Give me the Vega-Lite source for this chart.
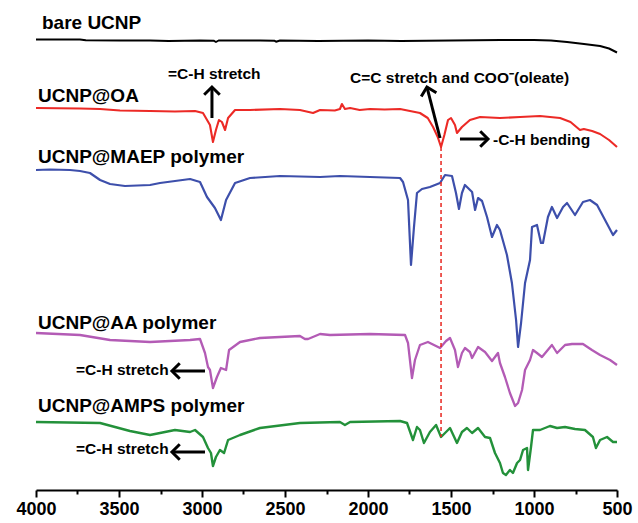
{
  "$schema": "https://vega.github.io/schema/vega-lite/v6.json",
  "width": 581,
  "height": 490,
  "autosize": {"type": "none"},
  "padding": {"left": 36, "top": 0, "right": 21, "bottom": 33},
  "config": {"view": {"stroke": null}, "font": "Liberation Sans"},
  "datasets": {
    "spectra": [
      {"series": "bare UCNP", "wavenumber": 4000, "transmittance": 450.5},
      {"series": "bare UCNP", "wavenumber": 3735, "transmittance": 450.5},
      {"series": "bare UCNP", "wavenumber": 3700, "transmittance": 449.7},
      {"series": "bare UCNP", "wavenumber": 3494, "transmittance": 449.5},
      {"series": "bare UCNP", "wavenumber": 3313, "transmittance": 449.5},
      {"series": "bare UCNP", "wavenumber": 3200, "transmittance": 449},
      {"series": "bare UCNP", "wavenumber": 3012, "transmittance": 449.5},
      {"series": "bare UCNP", "wavenumber": 2930, "transmittance": 449.3},
      {"series": "bare UCNP", "wavenumber": 2916, "transmittance": 448},
      {"series": "bare UCNP", "wavenumber": 2900, "transmittance": 449.5},
      {"series": "bare UCNP", "wavenumber": 2650, "transmittance": 449.5},
      {"series": "bare UCNP", "wavenumber": 2565, "transmittance": 449.3},
      {"series": "bare UCNP", "wavenumber": 2554, "transmittance": 448.3},
      {"series": "bare UCNP", "wavenumber": 2530, "transmittance": 449.5},
      {"series": "bare UCNP", "wavenumber": 2300, "transmittance": 449},
      {"series": "bare UCNP", "wavenumber": 2000, "transmittance": 449.5},
      {"series": "bare UCNP", "wavenumber": 1800, "transmittance": 449},
      {"series": "bare UCNP", "wavenumber": 1500, "transmittance": 449.5},
      {"series": "bare UCNP", "wavenumber": 1200, "transmittance": 450},
      {"series": "bare UCNP", "wavenumber": 1000, "transmittance": 450},
      {"series": "bare UCNP", "wavenumber": 898, "transmittance": 449.5},
      {"series": "bare UCNP", "wavenumber": 801, "transmittance": 448},
      {"series": "bare UCNP", "wavenumber": 699, "transmittance": 446},
      {"series": "bare UCNP", "wavenumber": 602, "transmittance": 444},
      {"series": "bare UCNP", "wavenumber": 548, "transmittance": 441.5},
      {"series": "bare UCNP", "wavenumber": 500, "transmittance": 437.5},

      {"series": "UCNP@OA", "wavenumber": 4000, "transmittance": 382},
      {"series": "UCNP@OA", "wavenumber": 3735, "transmittance": 381.5},
      {"series": "UCNP@OA", "wavenumber": 3614, "transmittance": 381},
      {"series": "UCNP@OA", "wavenumber": 3494, "transmittance": 379.5},
      {"series": "UCNP@OA", "wavenumber": 3313, "transmittance": 379},
      {"series": "UCNP@OA", "wavenumber": 3163, "transmittance": 378.5},
      {"series": "UCNP@OA", "wavenumber": 3042, "transmittance": 379},
      {"series": "UCNP@OA", "wavenumber": 2994, "transmittance": 377},
      {"series": "UCNP@OA", "wavenumber": 2952, "transmittance": 365},
      {"series": "UCNP@OA", "wavenumber": 2934, "transmittance": 348},
      {"series": "UCNP@OA", "wavenumber": 2916, "transmittance": 360},
      {"series": "UCNP@OA", "wavenumber": 2898, "transmittance": 370},
      {"series": "UCNP@OA", "wavenumber": 2880, "transmittance": 368},
      {"series": "UCNP@OA", "wavenumber": 2861, "transmittance": 360},
      {"series": "UCNP@OA", "wavenumber": 2843, "transmittance": 372},
      {"series": "UCNP@OA", "wavenumber": 2801, "transmittance": 380},
      {"series": "UCNP@OA", "wavenumber": 2711, "transmittance": 380},
      {"series": "UCNP@OA", "wavenumber": 2530, "transmittance": 381},
      {"series": "UCNP@OA", "wavenumber": 2410, "transmittance": 380},
      {"series": "UCNP@OA", "wavenumber": 2331, "transmittance": 377},
      {"series": "UCNP@OA", "wavenumber": 2289, "transmittance": 380},
      {"series": "UCNP@OA", "wavenumber": 2200, "transmittance": 379.5},
      {"series": "UCNP@OA", "wavenumber": 2169, "transmittance": 381},
      {"series": "UCNP@OA", "wavenumber": 2157, "transmittance": 386},
      {"series": "UCNP@OA", "wavenumber": 2139, "transmittance": 381},
      {"series": "UCNP@OA", "wavenumber": 2108, "transmittance": 382},
      {"series": "UCNP@OA", "wavenumber": 2050, "transmittance": 380},
      {"series": "UCNP@OA", "wavenumber": 1988, "transmittance": 381},
      {"series": "UCNP@OA", "wavenumber": 1900, "transmittance": 380.5},
      {"series": "UCNP@OA", "wavenumber": 1807, "transmittance": 381},
      {"series": "UCNP@OA", "wavenumber": 1687, "transmittance": 377},
      {"series": "UCNP@OA", "wavenumber": 1640, "transmittance": 372},
      {"series": "UCNP@OA", "wavenumber": 1608, "transmittance": 363},
      {"series": "UCNP@OA", "wavenumber": 1580, "transmittance": 353},
      {"series": "UCNP@OA", "wavenumber": 1560, "transmittance": 343},
      {"series": "UCNP@OA", "wavenumber": 1540, "transmittance": 355},
      {"series": "UCNP@OA", "wavenumber": 1518, "transmittance": 370},
      {"series": "UCNP@OA", "wavenumber": 1500, "transmittance": 372},
      {"series": "UCNP@OA", "wavenumber": 1476, "transmittance": 365},
      {"series": "UCNP@OA", "wavenumber": 1464, "transmittance": 357},
      {"series": "UCNP@OA", "wavenumber": 1434, "transmittance": 363},
      {"series": "UCNP@OA", "wavenumber": 1386, "transmittance": 370},
      {"series": "UCNP@OA", "wavenumber": 1325, "transmittance": 373},
      {"series": "UCNP@OA", "wavenumber": 1205, "transmittance": 372},
      {"series": "UCNP@OA", "wavenumber": 1084, "transmittance": 373},
      {"series": "UCNP@OA", "wavenumber": 964, "transmittance": 374},
      {"series": "UCNP@OA", "wavenumber": 843, "transmittance": 372},
      {"series": "UCNP@OA", "wavenumber": 780, "transmittance": 368},
      {"series": "UCNP@OA", "wavenumber": 723, "transmittance": 360},
      {"series": "UCNP@OA", "wavenumber": 700, "transmittance": 361},
      {"series": "UCNP@OA", "wavenumber": 650, "transmittance": 359},
      {"series": "UCNP@OA", "wavenumber": 602, "transmittance": 356},
      {"series": "UCNP@OA", "wavenumber": 548, "transmittance": 350},
      {"series": "UCNP@OA", "wavenumber": 500, "transmittance": 343},

      {"series": "UCNP@MAEP polymer", "wavenumber": 4000, "transmittance": 320},
      {"series": "UCNP@MAEP polymer", "wavenumber": 3916, "transmittance": 320.5},
      {"series": "UCNP@MAEP polymer", "wavenumber": 3795, "transmittance": 320},
      {"series": "UCNP@MAEP polymer", "wavenumber": 3735, "transmittance": 319},
      {"series": "UCNP@MAEP polymer", "wavenumber": 3675, "transmittance": 317},
      {"series": "UCNP@MAEP polymer", "wavenumber": 3614, "transmittance": 310},
      {"series": "UCNP@MAEP polymer", "wavenumber": 3554, "transmittance": 306},
      {"series": "UCNP@MAEP polymer", "wavenumber": 3464, "transmittance": 304},
      {"series": "UCNP@MAEP polymer", "wavenumber": 3313, "transmittance": 305},
      {"series": "UCNP@MAEP polymer", "wavenumber": 3253, "transmittance": 307},
      {"series": "UCNP@MAEP polymer", "wavenumber": 3072, "transmittance": 311},
      {"series": "UCNP@MAEP polymer", "wavenumber": 3012, "transmittance": 308},
      {"series": "UCNP@MAEP polymer", "wavenumber": 2970, "transmittance": 293},
      {"series": "UCNP@MAEP polymer", "wavenumber": 2922, "transmittance": 282},
      {"series": "UCNP@MAEP polymer", "wavenumber": 2886, "transmittance": 270},
      {"series": "UCNP@MAEP polymer", "wavenumber": 2855, "transmittance": 290},
      {"series": "UCNP@MAEP polymer", "wavenumber": 2801, "transmittance": 307},
      {"series": "UCNP@MAEP polymer", "wavenumber": 2711, "transmittance": 312},
      {"series": "UCNP@MAEP polymer", "wavenumber": 2530, "transmittance": 314},
      {"series": "UCNP@MAEP polymer", "wavenumber": 2289, "transmittance": 313},
      {"series": "UCNP@MAEP polymer", "wavenumber": 2169, "transmittance": 314},
      {"series": "UCNP@MAEP polymer", "wavenumber": 1988, "transmittance": 313},
      {"series": "UCNP@MAEP polymer", "wavenumber": 1807, "transmittance": 312},
      {"series": "UCNP@MAEP polymer", "wavenumber": 1789, "transmittance": 308},
      {"series": "UCNP@MAEP polymer", "wavenumber": 1759, "transmittance": 290},
      {"series": "UCNP@MAEP polymer", "wavenumber": 1741, "transmittance": 225},
      {"series": "UCNP@MAEP polymer", "wavenumber": 1723, "transmittance": 263},
      {"series": "UCNP@MAEP polymer", "wavenumber": 1705, "transmittance": 297},
      {"series": "UCNP@MAEP polymer", "wavenumber": 1675, "transmittance": 301},
      {"series": "UCNP@MAEP polymer", "wavenumber": 1627, "transmittance": 303},
      {"series": "UCNP@MAEP polymer", "wavenumber": 1566, "transmittance": 307},
      {"series": "UCNP@MAEP polymer", "wavenumber": 1536, "transmittance": 315},
      {"series": "UCNP@MAEP polymer", "wavenumber": 1494, "transmittance": 314},
      {"series": "UCNP@MAEP polymer", "wavenumber": 1470, "transmittance": 297},
      {"series": "UCNP@MAEP polymer", "wavenumber": 1452, "transmittance": 281},
      {"series": "UCNP@MAEP polymer", "wavenumber": 1434, "transmittance": 297},
      {"series": "UCNP@MAEP polymer", "wavenumber": 1416, "transmittance": 305},
      {"series": "UCNP@MAEP polymer", "wavenumber": 1373, "transmittance": 298},
      {"series": "UCNP@MAEP polymer", "wavenumber": 1355, "transmittance": 280},
      {"series": "UCNP@MAEP polymer", "wavenumber": 1337, "transmittance": 292},
      {"series": "UCNP@MAEP polymer", "wavenumber": 1313, "transmittance": 289},
      {"series": "UCNP@MAEP polymer", "wavenumber": 1283, "transmittance": 273},
      {"series": "UCNP@MAEP polymer", "wavenumber": 1253, "transmittance": 253},
      {"series": "UCNP@MAEP polymer", "wavenumber": 1223, "transmittance": 265},
      {"series": "UCNP@MAEP polymer", "wavenumber": 1205, "transmittance": 260},
      {"series": "UCNP@MAEP polymer", "wavenumber": 1163, "transmittance": 235},
      {"series": "UCNP@MAEP polymer", "wavenumber": 1133, "transmittance": 207},
      {"series": "UCNP@MAEP polymer", "wavenumber": 1108, "transmittance": 170},
      {"series": "UCNP@MAEP polymer", "wavenumber": 1096, "transmittance": 143},
      {"series": "UCNP@MAEP polymer", "wavenumber": 1078, "transmittance": 167},
      {"series": "UCNP@MAEP polymer", "wavenumber": 1054, "transmittance": 207},
      {"series": "UCNP@MAEP polymer", "wavenumber": 1024, "transmittance": 230},
      {"series": "UCNP@MAEP polymer", "wavenumber": 1012, "transmittance": 263},
      {"series": "UCNP@MAEP polymer", "wavenumber": 982, "transmittance": 265},
      {"series": "UCNP@MAEP polymer", "wavenumber": 958, "transmittance": 247},
      {"series": "UCNP@MAEP polymer", "wavenumber": 946, "transmittance": 247},
      {"series": "UCNP@MAEP polymer", "wavenumber": 916, "transmittance": 273},
      {"series": "UCNP@MAEP polymer", "wavenumber": 892, "transmittance": 283},
      {"series": "UCNP@MAEP polymer", "wavenumber": 861, "transmittance": 272},
      {"series": "UCNP@MAEP polymer", "wavenumber": 825, "transmittance": 283},
      {"series": "UCNP@MAEP polymer", "wavenumber": 801, "transmittance": 287},
      {"series": "UCNP@MAEP polymer", "wavenumber": 753, "transmittance": 275},
      {"series": "UCNP@MAEP polymer", "wavenumber": 705, "transmittance": 288},
      {"series": "UCNP@MAEP polymer", "wavenumber": 663, "transmittance": 290},
      {"series": "UCNP@MAEP polymer", "wavenumber": 620, "transmittance": 285},
      {"series": "UCNP@MAEP polymer", "wavenumber": 572, "transmittance": 270},
      {"series": "UCNP@MAEP polymer", "wavenumber": 524, "transmittance": 255},
      {"series": "UCNP@MAEP polymer", "wavenumber": 500, "transmittance": 260},

      {"series": "UCNP@AA polymer", "wavenumber": 4000, "transmittance": 157},
      {"series": "UCNP@AA polymer", "wavenumber": 3735, "transmittance": 155},
      {"series": "UCNP@AA polymer", "wavenumber": 3554, "transmittance": 150},
      {"series": "UCNP@AA polymer", "wavenumber": 3313, "transmittance": 148},
      {"series": "UCNP@AA polymer", "wavenumber": 3072, "transmittance": 150},
      {"series": "UCNP@AA polymer", "wavenumber": 3012, "transmittance": 151},
      {"series": "UCNP@AA polymer", "wavenumber": 2982, "transmittance": 137},
      {"series": "UCNP@AA polymer", "wavenumber": 2964, "transmittance": 123},
      {"series": "UCNP@AA polymer", "wavenumber": 2952, "transmittance": 120},
      {"series": "UCNP@AA polymer", "wavenumber": 2934, "transmittance": 102},
      {"series": "UCNP@AA polymer", "wavenumber": 2910, "transmittance": 113},
      {"series": "UCNP@AA polymer", "wavenumber": 2886, "transmittance": 122},
      {"series": "UCNP@AA polymer", "wavenumber": 2855, "transmittance": 120},
      {"series": "UCNP@AA polymer", "wavenumber": 2837, "transmittance": 140},
      {"series": "UCNP@AA polymer", "wavenumber": 2771, "transmittance": 148},
      {"series": "UCNP@AA polymer", "wavenumber": 2651, "transmittance": 152},
      {"series": "UCNP@AA polymer", "wavenumber": 2410, "transmittance": 154},
      {"series": "UCNP@AA polymer", "wavenumber": 2380, "transmittance": 151},
      {"series": "UCNP@AA polymer", "wavenumber": 2361, "transmittance": 151},
      {"series": "UCNP@AA polymer", "wavenumber": 2289, "transmittance": 156},
      {"series": "UCNP@AA polymer", "wavenumber": 2229, "transmittance": 155},
      {"series": "UCNP@AA polymer", "wavenumber": 1988, "transmittance": 156},
      {"series": "UCNP@AA polymer", "wavenumber": 1777, "transmittance": 155},
      {"series": "UCNP@AA polymer", "wavenumber": 1759, "transmittance": 147},
      {"series": "UCNP@AA polymer", "wavenumber": 1735, "transmittance": 112},
      {"series": "UCNP@AA polymer", "wavenumber": 1717, "transmittance": 130},
      {"series": "UCNP@AA polymer", "wavenumber": 1687, "transmittance": 145},
      {"series": "UCNP@AA polymer", "wavenumber": 1639, "transmittance": 148},
      {"series": "UCNP@AA polymer", "wavenumber": 1566, "transmittance": 142},
      {"series": "UCNP@AA polymer", "wavenumber": 1530, "transmittance": 149},
      {"series": "UCNP@AA polymer", "wavenumber": 1506, "transmittance": 152},
      {"series": "UCNP@AA polymer", "wavenumber": 1476, "transmittance": 140},
      {"series": "UCNP@AA polymer", "wavenumber": 1458, "transmittance": 123},
      {"series": "UCNP@AA polymer", "wavenumber": 1434, "transmittance": 137},
      {"series": "UCNP@AA polymer", "wavenumber": 1416, "transmittance": 142},
      {"series": "UCNP@AA polymer", "wavenumber": 1386, "transmittance": 138},
      {"series": "UCNP@AA polymer", "wavenumber": 1373, "transmittance": 132},
      {"series": "UCNP@AA polymer", "wavenumber": 1337, "transmittance": 143},
      {"series": "UCNP@AA polymer", "wavenumber": 1295, "transmittance": 138},
      {"series": "UCNP@AA polymer", "wavenumber": 1253, "transmittance": 129},
      {"series": "UCNP@AA polymer", "wavenumber": 1217, "transmittance": 137},
      {"series": "UCNP@AA polymer", "wavenumber": 1205, "transmittance": 127},
      {"series": "UCNP@AA polymer", "wavenumber": 1175, "transmittance": 113},
      {"series": "UCNP@AA polymer", "wavenumber": 1145, "transmittance": 97},
      {"series": "UCNP@AA polymer", "wavenumber": 1114, "transmittance": 84},
      {"series": "UCNP@AA polymer", "wavenumber": 1096, "transmittance": 87},
      {"series": "UCNP@AA polymer", "wavenumber": 1072, "transmittance": 100},
      {"series": "UCNP@AA polymer", "wavenumber": 1054, "transmittance": 120},
      {"series": "UCNP@AA polymer", "wavenumber": 1024, "transmittance": 130},
      {"series": "UCNP@AA polymer", "wavenumber": 1006, "transmittance": 140},
      {"series": "UCNP@AA polymer", "wavenumber": 982, "transmittance": 137},
      {"series": "UCNP@AA polymer", "wavenumber": 952, "transmittance": 133},
      {"series": "UCNP@AA polymer", "wavenumber": 892, "transmittance": 145},
      {"series": "UCNP@AA polymer", "wavenumber": 861, "transmittance": 137},
      {"series": "UCNP@AA polymer", "wavenumber": 813, "transmittance": 145},
      {"series": "UCNP@AA polymer", "wavenumber": 771, "transmittance": 146},
      {"series": "UCNP@AA polymer", "wavenumber": 705, "transmittance": 146},
      {"series": "UCNP@AA polymer", "wavenumber": 651, "transmittance": 140},
      {"series": "UCNP@AA polymer", "wavenumber": 602, "transmittance": 135},
      {"series": "UCNP@AA polymer", "wavenumber": 542, "transmittance": 130},
      {"series": "UCNP@AA polymer", "wavenumber": 500, "transmittance": 125},

      {"series": "UCNP@AMPS polymer", "wavenumber": 4000, "transmittance": 68},
      {"series": "UCNP@AMPS polymer", "wavenumber": 3614, "transmittance": 67},
      {"series": "UCNP@AMPS polymer", "wavenumber": 3434, "transmittance": 59},
      {"series": "UCNP@AMPS polymer", "wavenumber": 3313, "transmittance": 55},
      {"series": "UCNP@AMPS polymer", "wavenumber": 3163, "transmittance": 60},
      {"series": "UCNP@AMPS polymer", "wavenumber": 3072, "transmittance": 58},
      {"series": "UCNP@AMPS polymer", "wavenumber": 3042, "transmittance": 60},
      {"series": "UCNP@AMPS polymer", "wavenumber": 2994, "transmittance": 53},
      {"series": "UCNP@AMPS polymer", "wavenumber": 2964, "transmittance": 42},
      {"series": "UCNP@AMPS polymer", "wavenumber": 2946, "transmittance": 37},
      {"series": "UCNP@AMPS polymer", "wavenumber": 2934, "transmittance": 24},
      {"series": "UCNP@AMPS polymer", "wavenumber": 2916, "transmittance": 33},
      {"series": "UCNP@AMPS polymer", "wavenumber": 2892, "transmittance": 40},
      {"series": "UCNP@AMPS polymer", "wavenumber": 2867, "transmittance": 37},
      {"series": "UCNP@AMPS polymer", "wavenumber": 2843, "transmittance": 50},
      {"series": "UCNP@AMPS polymer", "wavenumber": 2771, "transmittance": 55},
      {"series": "UCNP@AMPS polymer", "wavenumber": 2651, "transmittance": 62},
      {"series": "UCNP@AMPS polymer", "wavenumber": 2410, "transmittance": 67},
      {"series": "UCNP@AMPS polymer", "wavenumber": 2169, "transmittance": 68},
      {"series": "UCNP@AMPS polymer", "wavenumber": 2139, "transmittance": 65},
      {"series": "UCNP@AMPS polymer", "wavenumber": 2108, "transmittance": 68},
      {"series": "UCNP@AMPS polymer", "wavenumber": 1807, "transmittance": 69},
      {"series": "UCNP@AMPS polymer", "wavenumber": 1765, "transmittance": 67},
      {"series": "UCNP@AMPS polymer", "wavenumber": 1729, "transmittance": 50},
      {"series": "UCNP@AMPS polymer", "wavenumber": 1705, "transmittance": 63},
      {"series": "UCNP@AMPS polymer", "wavenumber": 1687, "transmittance": 60},
      {"series": "UCNP@AMPS polymer", "wavenumber": 1663, "transmittance": 47},
      {"series": "UCNP@AMPS polymer", "wavenumber": 1627, "transmittance": 58},
      {"series": "UCNP@AMPS polymer", "wavenumber": 1590, "transmittance": 65},
      {"series": "UCNP@AMPS polymer", "wavenumber": 1560, "transmittance": 53},
      {"series": "UCNP@AMPS polymer", "wavenumber": 1506, "transmittance": 62},
      {"series": "UCNP@AMPS polymer", "wavenumber": 1464, "transmittance": 47},
      {"series": "UCNP@AMPS polymer", "wavenumber": 1434, "transmittance": 58},
      {"series": "UCNP@AMPS polymer", "wavenumber": 1404, "transmittance": 62},
      {"series": "UCNP@AMPS polymer", "wavenumber": 1373, "transmittance": 57},
      {"series": "UCNP@AMPS polymer", "wavenumber": 1337, "transmittance": 62},
      {"series": "UCNP@AMPS polymer", "wavenumber": 1295, "transmittance": 53},
      {"series": "UCNP@AMPS polymer", "wavenumber": 1265, "transmittance": 52},
      {"series": "UCNP@AMPS polymer", "wavenumber": 1235, "transmittance": 37},
      {"series": "UCNP@AMPS polymer", "wavenumber": 1205, "transmittance": 27},
      {"series": "UCNP@AMPS polymer", "wavenumber": 1187, "transmittance": 17},
      {"series": "UCNP@AMPS polymer", "wavenumber": 1169, "transmittance": 15},
      {"series": "UCNP@AMPS polymer", "wavenumber": 1145, "transmittance": 20},
      {"series": "UCNP@AMPS polymer", "wavenumber": 1127, "transmittance": 17},
      {"series": "UCNP@AMPS polymer", "wavenumber": 1102, "transmittance": 27},
      {"series": "UCNP@AMPS polymer", "wavenumber": 1084, "transmittance": 30},
      {"series": "UCNP@AMPS polymer", "wavenumber": 1066, "transmittance": 40},
      {"series": "UCNP@AMPS polymer", "wavenumber": 1042, "transmittance": 42},
      {"series": "UCNP@AMPS polymer", "wavenumber": 1036, "transmittance": 20},
      {"series": "UCNP@AMPS polymer", "wavenumber": 1018, "transmittance": 43},
      {"series": "UCNP@AMPS polymer", "wavenumber": 1006, "transmittance": 60},
      {"series": "UCNP@AMPS polymer", "wavenumber": 964, "transmittance": 60},
      {"series": "UCNP@AMPS polymer", "wavenumber": 904, "transmittance": 64},
      {"series": "UCNP@AMPS polymer", "wavenumber": 861, "transmittance": 62},
      {"series": "UCNP@AMPS polymer", "wavenumber": 813, "transmittance": 63},
      {"series": "UCNP@AMPS polymer", "wavenumber": 753, "transmittance": 61},
      {"series": "UCNP@AMPS polymer", "wavenumber": 693, "transmittance": 60},
      {"series": "UCNP@AMPS polymer", "wavenumber": 645, "transmittance": 53},
      {"series": "UCNP@AMPS polymer", "wavenumber": 627, "transmittance": 42},
      {"series": "UCNP@AMPS polymer", "wavenumber": 602, "transmittance": 50},
      {"series": "UCNP@AMPS polymer", "wavenumber": 560, "transmittance": 53},
      {"series": "UCNP@AMPS polymer", "wavenumber": 524, "transmittance": 48},
      {"series": "UCNP@AMPS polymer", "wavenumber": 500, "transmittance": 48}
    ],
    "seriesLabels": [
      {"label": "bare UCNP", "wavenumber": 3964, "transmittance": 467},
      {"label": "UCNP@OA", "wavenumber": 3988, "transmittance": 394},
      {"label": "UCNP@MAEP polymer", "wavenumber": 3988, "transmittance": 333},
      {"label": "UCNP@AA polymer", "wavenumber": 3988, "transmittance": 167},
      {"label": "UCNP@AMPS polymer", "wavenumber": 3988, "transmittance": 84}
    ],
    "notes": [
      {"label": "=C-H stretch", "wavenumber": 3205, "transmittance": 416},
      {"label": "C=C stretch and COO⁻(oleate)", "wavenumber": 2108, "transmittance": 412},
      {"label": "-C-H bending", "wavenumber": 1247, "transmittance": 350},
      {"label": "=C-H stretch", "wavenumber": 3759, "transmittance": 120},
      {"label": "=C-H stretch", "wavenumber": 3759, "transmittance": 41}
    ],
    "arrows": [
      {"dir": "up", "from_wn": 2940, "from_t": 372, "to_wn": 2940, "to_t": 403},
      {"dir": "upleft", "from_wn": 1566, "from_t": 352, "to_wn": 1645, "to_t": 403},
      {"dir": "right", "from_wn": 1446, "from_t": 351, "to_wn": 1277, "to_t": 351},
      {"dir": "left", "from_wn": 2982, "from_t": 119, "to_wn": 3181, "to_t": 119},
      {"dir": "left", "from_wn": 2982, "from_t": 38, "to_wn": 3181, "to_t": 38}
    ],
    "marker": [
      {"wavenumber": 1560, "top": 343, "bottom": 53}
    ]
  },
  "layer": [
    {
      "layer": [
        {
          "data": {"name": "spectra"},
          "mark": {"type": "line", "strokeJoin": "round"},
          "encoding": {
            "x": {
              "field": "wavenumber", "type": "quantitative",
              "scale": {"domain": [4000, 500], "nice": false, "zero": false},
              "axis": {
                "title": null, "values": [4000, 3500, 3000, 2500, 2000, 1500, 1000, 500],
                "format": "d", "grid": false, "labelFontSize": 18, "labelFont": "Liberation Sans",
                "labelFontWeight": "bold", "labelColor": "#000000", "domainColor": "#000000",
                "domainWidth": 2, "tickColor": "#000000", "tickWidth": 2, "tickSize": 7,
                "labelPadding": 3, "labelFlush": false, "labelOverlap": false
              }
            },
            "y": {
              "field": "transmittance", "type": "quantitative",
              "scale": {"domain": [0, 490], "nice": false, "zero": false},
              "axis": null
            },
            "color": {
              "field": "series", "type": "nominal", "legend": null,
              "scale": {
                "domain": ["bare UCNP", "UCNP@OA", "UCNP@MAEP polymer", "UCNP@AA polymer", "UCNP@AMPS polymer"],
                "range": ["#000000", "#ec2a26", "#3d4fab", "#b35bb5", "#23913a"]
              }
            },
            "strokeWidth": {
              "field": "series", "type": "nominal", "legend": null,
              "scale": {
                "domain": ["bare UCNP", "UCNP@OA", "UCNP@MAEP polymer", "UCNP@AA polymer", "UCNP@AMPS polymer"],
                "range": [2, 2.4, 3, 3, 2.6]
              }
            }
          }
        },
        {
          "data": {"name": "seriesLabels"},
          "mark": {"type": "text", "align": "left", "baseline": "middle", "fontSize": 19, "fontWeight": "bold", "font": "Liberation Sans", "color": "#000000"},
          "encoding": {
            "x": {"field": "wavenumber", "type": "quantitative"},
            "y": {"field": "transmittance", "type": "quantitative"},
            "text": {"field": "label"}
          }
        },
        {
          "data": {"name": "notes"},
          "mark": {"type": "text", "align": "left", "baseline": "middle", "fontSize": 15.5, "fontWeight": "bold", "font": "Liberation Sans", "color": "#000000"},
          "encoding": {
            "x": {"field": "wavenumber", "type": "quantitative"},
            "y": {"field": "transmittance", "type": "quantitative"},
            "text": {"field": "label"}
          }
        },
        {
          "data": {"name": "arrows"},
          "mark": {"type": "rule", "strokeWidth": 3, "color": "#000000"},
          "encoding": {
            "x": {"field": "from_wn", "type": "quantitative"},
            "x2": {"field": "to_wn"},
            "y": {"field": "from_t", "type": "quantitative"},
            "y2": {"field": "to_t"}
          }
        },
        {
          "data": {"name": "arrows"},
          "transform": [{"filter": "datum.dir === 'up'"}],
          "mark": {"type": "point", "shape": "M-0.8,0.8L0,0L0.8,0.8", "filled": false, "stroke": "#000000", "strokeWidth": 3, "size": 380, "angle": 0, "opacity": 1},
          "encoding": {
            "x": {"field": "to_wn", "type": "quantitative"},
            "y": {"field": "to_t", "type": "quantitative"}
          }
        },
        {
          "data": {"name": "arrows"},
          "transform": [{"filter": "datum.dir === 'upleft'"}],
          "mark": {"type": "point", "shape": "M-0.8,0.8L0,0L0.8,0.8", "filled": false, "stroke": "#000000", "strokeWidth": 3, "size": 380, "angle": 346, "opacity": 1},
          "encoding": {
            "x": {"field": "to_wn", "type": "quantitative"},
            "y": {"field": "to_t", "type": "quantitative"}
          }
        },
        {
          "data": {"name": "arrows"},
          "transform": [{"filter": "datum.dir === 'right'"}],
          "mark": {"type": "point", "shape": "M-0.8,0.8L0,0L0.8,0.8", "filled": false, "stroke": "#000000", "strokeWidth": 3, "size": 380, "angle": 90, "opacity": 1},
          "encoding": {
            "x": {"field": "to_wn", "type": "quantitative"},
            "y": {"field": "to_t", "type": "quantitative"}
          }
        },
        {
          "data": {"name": "arrows"},
          "transform": [{"filter": "datum.dir === 'left'"}],
          "mark": {"type": "point", "shape": "M-0.8,0.8L0,0L0.8,0.8", "filled": false, "stroke": "#000000", "strokeWidth": 3, "size": 380, "angle": 270, "opacity": 1},
          "encoding": {
            "x": {"field": "to_wn", "type": "quantitative"},
            "y": {"field": "to_t", "type": "quantitative"}
          }
        }
      ]
    },
    {
      "data": {"name": "marker"},
      "mark": {"type": "rule", "color": "#e8251f", "strokeWidth": 1.5, "strokeDash": [4, 3]},
      "encoding": {
        "x": {
          "field": "wavenumber", "type": "quantitative",
          "axis": {
            "orient": "bottom", "title": null, "values": [3750, 3250, 2750, 2250, 1750, 1250, 750],
            "labels": false, "domain": false, "grid": false, "tickColor": "#000000",
            "tickWidth": 2, "tickSize": 4
          }
        },
        "y": {"field": "top", "type": "quantitative"},
        "y2": {"field": "bottom"}
      }
    }
  ],
  "resolve": {"axis": {"x": "independent"}}
}
